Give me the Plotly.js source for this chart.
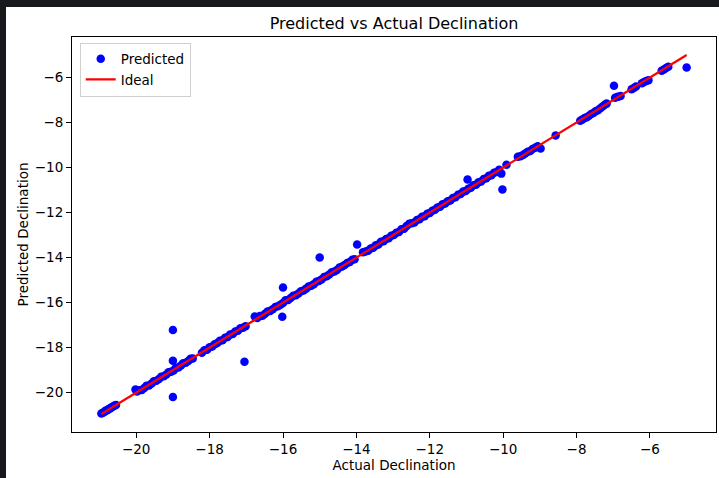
<!DOCTYPE html>
<html>
<head>
<meta charset="utf-8">
<script src="https://cdn.plot.ly/plotly-3.0.1.min.js"></script>
<style>
  html, body { margin: 0; padding: 0; background: #17191c; width: 719px; height: 478px; overflow: hidden; }
  #chart { position: absolute; left: 6px; top: 7px; width: 713px; height: 471px; background: #ffffff; }
</style>
</head>
<body>
<div id="chart"></div>
<script>
// Actual declination values (x) and model predictions (y)
const actualA = [-20.95,-20.91,-20.87,-20.83,-20.79,-20.75,-20.71,-20.67,-20.63,-20.59,-20.55];
const predA   = [-20.93,-20.89,-20.86,-20.80,-20.78,-20.73,-20.70,-20.65,-20.62,-20.57,-20.55];

const actualB = [-20.02,-19.98,-19.92,-19.85,-19.78,-19.72,-19.65,-19.58,-19.52,-19.45,-19.38,-19.32,-19.25,-19.18,-19.12,-19.05,-18.98,-18.92,-18.85,-18.78,-18.72,-18.65,-18.58,-18.52,-18.46];
const predB   = [-19.86,-19.95,-19.90,-19.88,-19.80,-19.70,-19.68,-19.60,-19.50,-19.47,-19.40,-19.30,-19.27,-19.20,-19.10,-19.07,-19.02,-18.90,-18.88,-18.80,-18.70,-18.67,-18.60,-18.50,-18.48];

const actualC = [-18.21,-18.14,-18.07,-18.00,-17.93,-17.86,-17.79,-17.72,-17.65,-17.58,-17.51,-17.44,-17.37,-17.30,-17.23,-17.16,-17.09,-17.02];
const predC   = [-18.23,-18.12,-18.10,-17.98,-17.95,-17.85,-17.80,-17.70,-17.67,-17.56,-17.53,-17.42,-17.40,-17.28,-17.25,-17.14,-17.12,-17.05];

const actualD1 = [-16.77,-16.70,-16.63,-16.56,-16.49,-16.42,-16.35,-16.28,-16.21,-16.14,-16.07,-16.00,-15.93,-15.86,-15.79,-15.72,-15.65,-15.58,-15.51,-15.44,-15.37,-15.30,-15.23,-15.16,-15.09,-15.02,-14.95,-14.88,-14.81,-14.74,-14.67,-14.60,-14.53,-14.46,-14.39,-14.32,-14.25,-14.18,-14.11,-14.05];
const predD1   = [-16.62,-16.68,-16.60,-16.58,-16.50,-16.40,-16.37,-16.30,-16.20,-16.16,-16.10,-16.02,-15.90,-15.88,-15.80,-15.70,-15.67,-15.60,-15.50,-15.46,-15.38,-15.28,-15.25,-15.18,-15.07,-15.04,-14.97,-14.86,-14.83,-14.75,-14.65,-14.62,-14.55,-14.44,-14.40,-14.33,-14.24,-14.20,-14.10,-14.07];

const actualD2 = [-13.82,-13.75,-13.68,-13.61,-13.54,-13.47,-13.40,-13.33,-13.26,-13.19,-13.12,-13.05,-12.98,-12.91,-12.84,-12.77,-12.70,-12.63,-12.56,-12.49,-12.42,-12.35,-12.28,-12.21,-12.14,-12.07,-12.00,-11.93,-11.86,-11.79,-11.72,-11.65,-11.58,-11.51,-11.44,-11.37,-11.30,-11.23,-11.16,-11.09,-11.02,-10.95,-10.88,-10.81,-10.74,-10.67,-10.60,-10.53,-10.46,-10.39,-10.32,-10.25,-10.18,-10.11];
const predD2   = [-13.76,-13.73,-13.70,-13.60,-13.56,-13.45,-13.42,-13.30,-13.28,-13.17,-13.14,-13.03,-13.00,-12.90,-12.86,-12.74,-12.72,-12.60,-12.50,-12.47,-12.44,-12.33,-12.30,-12.19,-12.16,-12.05,-12.02,-11.92,-11.88,-11.78,-11.74,-11.63,-11.60,-11.50,-11.46,-11.35,-11.32,-11.21,-11.18,-11.07,-11.04,-10.94,-10.90,-10.79,-10.76,-10.65,-10.62,-10.51,-10.48,-10.37,-10.34,-10.23,-10.20,-10.10];

const actualE = [-9.91,-9.60,-9.53,-9.46,-9.40,-9.33,-9.26,-9.20,-9.13,-9.06,-8.98,-8.57];
const predE   = [-9.88,-9.52,-9.50,-9.44,-9.38,-9.30,-9.27,-9.18,-9.12,-9.05,-9.15,-8.58];

const actualF = [-7.90,-7.84,-7.78,-7.72,-7.66,-7.60,-7.54,-7.48,-7.42,-7.36,-7.30,-7.24,-7.18];
const predF   = [-7.92,-7.86,-7.80,-7.76,-7.70,-7.62,-7.58,-7.50,-7.45,-7.38,-7.30,-7.22,-7.16];

const actualG = [-6.95,-6.88,-6.80,-6.50,-6.44,-6.38,-6.22,-6.16,-6.10,-6.04,-5.68,-5.62,-5.56,-5.50];
const predG   = [-6.90,-6.86,-6.82,-6.52,-6.47,-6.40,-6.26,-6.20,-6.16,-6.12,-5.70,-5.64,-5.58,-5.52];

// Off-line predictions
const actualOut = [-19.00,-19.00,-19.00,-17.05,-16.02,-16.00,-15.00,-13.98,-10.97,-10.05,-10.02,-6.98,-5.00];
const predOut   = [-17.22,-18.58,-20.20,-18.63,-16.63,-15.33,-14.00,-13.42,-10.53,-10.27,-10.98,-6.37,-5.56];

// Ideal line endpoints (min / max of actual)
const idealX = [-20.95, -5.00];
const idealY = [-20.95, -5.00];

const xTicks = [-20,-18,-16,-14,-12,-10,-8,-6];
const yTicks = [-20,-18,-16,-14,-12,-10,-8,-6];

const actual = [].concat(actualA, actualB, actualC, actualD1, actualD2, actualE, actualF, actualG, actualOut);
const predicted = [].concat(predA, predB, predC, predD1, predD2, predE, predF, predG, predOut);

const font = "DejaVu Sans, sans-serif";

const traces = [
  {
    x: actual, y: predicted, type: 'scatter', mode: 'markers', name: 'Predicted',
    marker: { color: '#0000ff', size: 8.5, line: { width: 0 } },
    hoverinfo: 'skip'
  },
  {
    x: idealX, y: idealY, type: 'scatter', mode: 'lines', name: 'Ideal',
    line: { color: '#ff0000', width: 2.2 },
    hoverinfo: 'skip'
  }
];

const axisCommon = {
  showgrid: false, zeroline: false,
  showline: true, mirror: true, linecolor: '#000000', linewidth: 1,
  ticks: 'outside', ticklen: 5, tickwidth: 1, tickcolor: '#000000',
  tickfont: { family: font, size: 13.5, color: '#000000' },
  tickmode: 'array'
};

const layout = {
  width: 713, height: 471,
  margin: { l: 66, r: 3, t: 30, b: 46, pad: 0 },
  paper_bgcolor: '#ffffff', plot_bgcolor: '#ffffff',
  font: { family: font, color: '#000000' },
  title: {
    text: 'Predicted vs Actual Declination',
    font: { family: font, size: 16, color: '#000000' },
    x: 0.5, xref: 'paper', xanchor: 'center',
    y: 0.966, yref: 'container', yanchor: 'middle'
  },
  xaxis: Object.assign({}, axisCommon, {
    range: [-21.75, -4.2], tickvals: xTicks, automargin: true,
    title: { text: 'Actual Declination', font: { family: font, size: 13.5, color: '#000000' }, standoff: 3 }
  }),
  yaxis: Object.assign({}, axisCommon, {
    range: [-21.75, -4.2], tickvals: yTicks, automargin: true,
    title: { text: 'Predicted Declination', font: { family: font, size: 13.5, color: '#000000' }, standoff: 3 }
  }),
  showlegend: true,
  legend: {
    x: 0.012, y: 0.986, xanchor: 'left', yanchor: 'top',
    bgcolor: 'rgba(255,255,255,0.8)', bordercolor: '#d0d0d0', borderwidth: 1,
    font: { family: font, size: 13.5, color: '#000000' },
    tracegroupgap: 0
  }
};

Plotly.newPlot('chart', traces, layout, { staticPlot: true, displayModeBar: false });
</script>
</body>
</html>
